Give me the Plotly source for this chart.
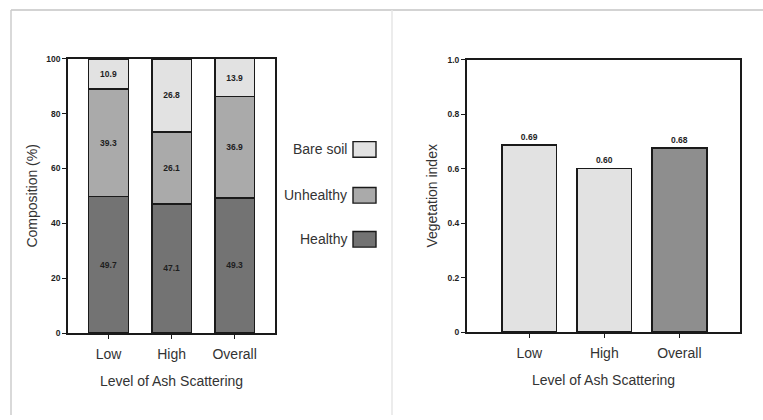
import plotly.graph_objects as go

categories = ["Low", "High", "Overall"]
healthy = [49.7, 47.1, 49.3]
unhealthy = [39.3, 26.1, 36.9]
bare_soil = [10.9, 26.8, 13.9]
veg_index = [0.687, 0.601, 0.676]
veg_labels = ["0.69", "0.60", "0.68"]
comp_ticks = [0, 20, 40, 60, 80, 100]
veg_ticks = [0, 0.2, 0.4, 0.6, 0.8, 1.0]
veg_ticktext = ["0", "0.2", "0.4", "0.6", "0.8", "1.0"]

FONT = "Liberation Sans, Arial, sans-serif"
C_BARE = "#e2e2e2"
C_UNH = "#aaaaaa"
C_HEA = "#737373"
C_OVR = "#8e8e8e"

fig = go.Figure()

for name, vals, col in [("Healthy", healthy, C_HEA), ("Unhealthy", unhealthy, C_UNH), ("Bare soil", bare_soil, C_BARE)]:
    fig.add_trace(go.Bar(
        x=categories, y=vals, name=name, xaxis="x", yaxis="y",
        marker=dict(color=col, line=dict(color="#1a1a1a", width=1.6)),
        width=0.63, text=[f"{v:.1f}" for v in vals], textposition="inside",
        insidetextanchor="middle", constraintext="none",
        textfont=dict(size=8.5, color="#1e1e1e", family=FONT, weight="bold"),
        showlegend=False, hoverinfo="skip",
    ))

fig.add_trace(go.Bar(
    x=categories, y=veg_index, xaxis="x2", yaxis="y2",
    marker=dict(color=[C_BARE, C_BARE, C_OVR], line=dict(color="#1a1a1a", width=1.6)),
    width=0.73, text=veg_labels, textposition="outside", cliponaxis=False,
    constraintext="none",
    textfont=dict(size=8.5, color="#1e1e1e", family=FONT, weight="bold"),
    showlegend=False, hoverinfo="skip",
))

axis_common = dict(showline=True, linecolor="#1a1a1a", linewidth=1.8, mirror=True,
                   ticks="outside", tickcolor="#1a1a1a", ticklen=4, tickwidth=1.4,
                   showgrid=False, zeroline=False)

xtitle_font = dict(size=14, color="#333333")
fig.update_layout(
    width=763, height=420, margin=dict(l=0, r=0, t=0, b=0),
    paper_bgcolor="white", plot_bgcolor="white",
    barmode="stack", showlegend=False,
    font=dict(family=FONT, color="#222222"),
    xaxis=dict(domain=[0.0891, 0.3604], anchor="y", range=[-0.643, 2.64],
               tickfont=dict(size=14, color="#333333"), ticklabelstandoff=3,
               title=dict(text="Level of Ash Scattering", font=xtitle_font, standoff=15),
               **axis_common),
    yaxis=dict(domain=[0.2, 0.869], anchor="x", range=[0, 100],
               tickvals=comp_ticks, tickfont=dict(size=8.5, color="#1e1e1e", weight="bold"),
               title=dict(text="Composition (%)", font=xtitle_font, standoff=5),
               **axis_common),
    xaxis2=dict(domain=[0.612, 0.970], anchor="y2", range=[-0.83, 2.81],
                tickfont=dict(size=14, color="#333333"), ticklabelstandoff=3,
                title=dict(text="Level of Ash Scattering", font=xtitle_font, standoff=15),
                **axis_common),
    yaxis2=dict(domain=[0.2024, 0.8667], anchor="x2", range=[0, 1.0],
                tickvals=veg_ticks, ticktext=veg_ticktext,
                tickfont=dict(size=8.5, color="#1e1e1e", weight="bold"),
                title=dict(text="Vegetation index", font=xtitle_font, standoff=7),
                **axis_common),
)

# custom legend (text to the left of swatches)
legend_items = [("Bare soil", C_BARE, 148), ("Unhealthy", C_UNH, 195), ("Healthy", C_HEA, 240)]
for label, col, ypx in legend_items:
    yc = 1 - ypx / 420
    fig.add_shape(type="rect", xref="paper", yref="paper",
                  x0=353 / 763, x1=376 / 763, y0=yc - 8 / 420, y1=yc + 8 / 420,
                  fillcolor=col, line=dict(color="#1a1a1a", width=1.4))
    fig.add_annotation(xref="paper", yref="paper", x=349 / 763, y=yc, text=label,
                       showarrow=False, xanchor="right", yanchor="middle",
                       font=dict(size=14, color="#333333", family=FONT))

# panel frame lines
fig.add_shape(type="line", xref="paper", yref="paper", x0=11 / 763, x1=1, y0=1 - 5 / 420, y1=1 - 5 / 420,
              line=dict(color="#c4c4c4", width=1.5))
fig.add_shape(type="line", xref="paper", yref="paper", x0=11 / 763, x1=11 / 763, y0=0, y1=1 - 5 / 420,
              line=dict(color="#cccccc", width=1.5))
fig.add_shape(type="line", xref="paper", yref="paper", x0=392 / 763, x1=392 / 763, y0=0, y1=1 - 5 / 420,
              line=dict(color="#e6e6e6", width=1.5))

fig.write_html("out.html")
